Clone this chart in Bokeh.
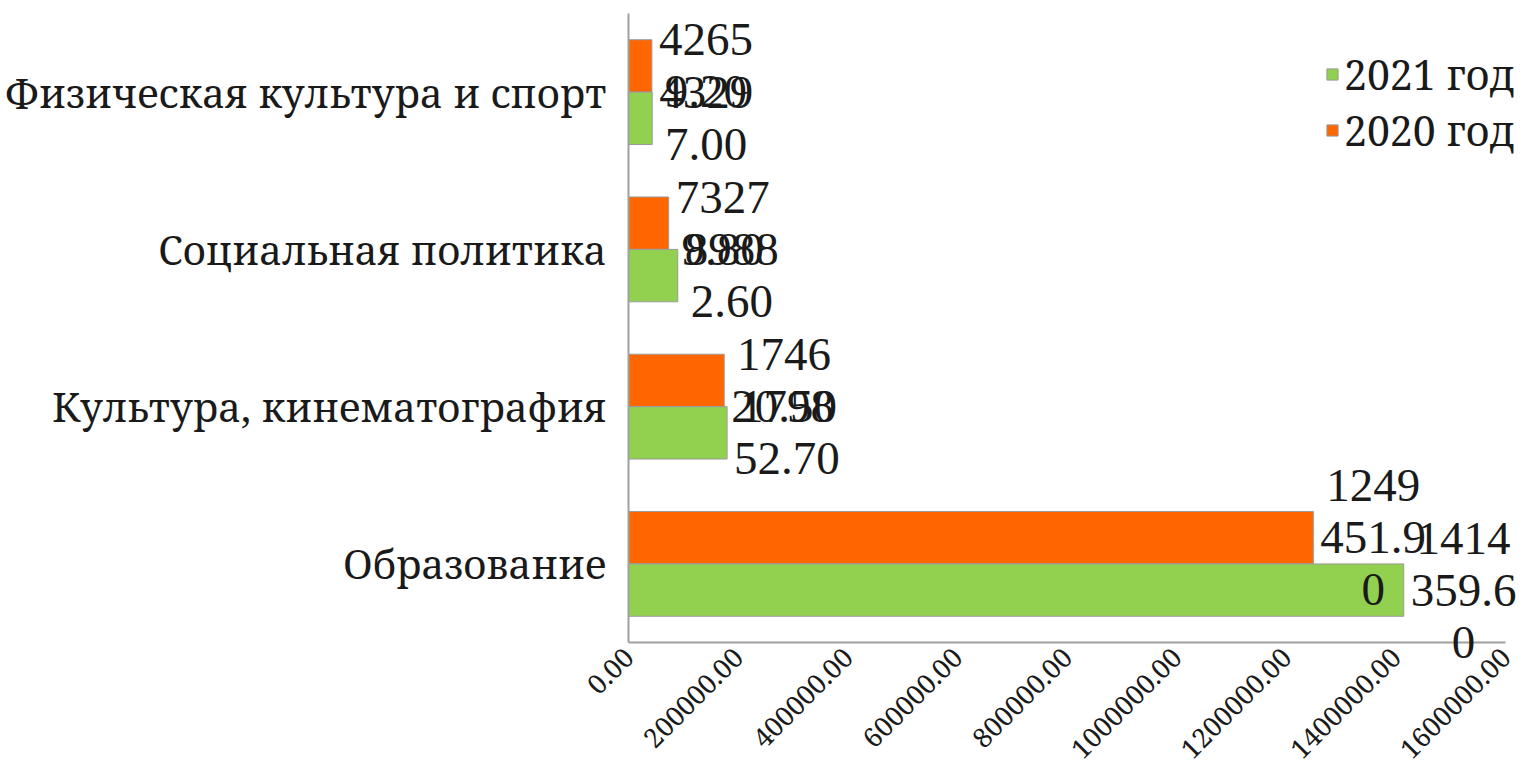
from bokeh.plotting import figure
from bokeh.models import (ColumnDataSource, Range1d, FixedTicker,
                          NumeralTickFormatter, Legend, LegendItem, LabelSet)
from bokeh.transform import dodge
from bokeh.embed import file_html
from bokeh.resources import INLINE
from math import pi

# ---- data ----
categories = ["Образование", "Культура, кинематография",
              "Социальная политика", "Физическая культура и спорт"]
values_2020 = [1249451.90, 174620.50, 73279.80, 42659.20]
values_2021 = [1414359.60, 179852.70, 89882.60, 43297.00]
series_names = ["2021 год", "2020 год"]
x_ticks = [0, 200000, 400000, 600000, 800000, 1000000, 1200000, 1400000, 1600000]

# ---- styling / layout ----
FONT = "Noto Serif"
LABEL_PX = 47
LINE_H = 52
GAP = 7
ORANGE = "#FF6600"
GREEN = "#92D050"
EDGE = "#9a9a9a"
AXIS_C = "#a0a0a0"
TXT = "#1a1a1a"

W, H = 1525, 776
X0_PX, XEND_PX = 628, 1505     # page px of x=0 and of the last tick
Y_TOP_PX, Y_BOT_PX = 13, 642   # page px of top of categories and of x axis
n_cat = len(categories)
sx = x_ticks[-1] / (XEND_PX - X0_PX)
unit = (Y_BOT_PX - Y_TOP_PX) / n_cat
x_start = -X0_PX * sx
x_end = (W - X0_PX) * sx
y_hi = n_cat - 0.5 + Y_TOP_PX / unit
y_lo = -0.5 - (H - Y_BOT_PX) / unit


def wrap_w(ch):          # width units used for line breaking
    return 0.25 if ch == "." else 0.5


def font_w(ch):          # approximate advance in em
    return 0.25 if ch == "." else 0.5


def wrap(s, limit=2.3):
    lines, cur, w = [], "", 0.0
    for ch in s:
        cw = wrap_w(ch)
        if cur and w + cw > limit:
            lines.append(cur)
            cur, w = "", 0.0
        cur += ch
        w += cw
    lines.append(cur)
    return lines


def label_source(values):
    xs, ys, texts, xo, yo = [], [], [], [], []
    for i, v in enumerate(values):
        lines = wrap(f"{v:.2f}")
        block = max(sum(font_w(ch) for ch in l) for l in lines) * LABEL_PX
        n = len(lines)
        for k, l in enumerate(lines):
            xs.append(v)
            ys.append(i)
            texts.append(l)
            xo.append(GAP + block / 2)
            yo.append(-(k - (n - 1) / 2) * LINE_H)
    return ColumnDataSource(dict(x=xs, ypos=ys, text=texts, xo=xo, yo=yo))


p = figure(width=W, height=H, output_backend="svg", toolbar_location=None,
           x_range=Range1d(x_start, x_end), y_range=Range1d(y_lo, y_hi),
           min_border_left=0, min_border_right=0, min_border_top=0,
           min_border_bottom=0)
p.outline_line_color = None
p.grid.visible = False

src = ColumnDataSource(dict(ypos=list(range(n_cat)), cat=categories,
                            v2020=values_2020, v2021=values_2021))

r20 = p.hbar(y=dodge("ypos", 0.1667), right="v2020", left=0, height=0.333,
             source=src, fill_color=ORANGE, line_color=EDGE, line_width=1)
r21 = p.hbar(y=dodge("ypos", -0.1667), right="v2021", left=0, height=0.333,
             source=src, fill_color=GREEN, line_color=EDGE, line_width=1)

for vals, off in ((values_2020, 0.1667), (values_2021, -0.1667)):
    ls = LabelSet(x="x", y=dodge("ypos", off), text="text",
                  x_offset="xo", y_offset="yo", source=label_source(vals),
                  text_font=FONT, text_font_size=f"{LABEL_PX}px",
                  text_align="center", text_baseline="middle",
                  text_color=TXT)
    p.add_layout(ls)

# x axis
xa = p.xaxis[0]
xa.fixed_location = -0.5
xa.bounds = (x_ticks[0], x_ticks[-1])
xa.ticker = FixedTicker(ticks=x_ticks)
xa.formatter = NumeralTickFormatter(format="0.00")
xa.major_label_orientation = pi / 4
xa.major_label_text_font = FONT
xa.major_label_text_font_size = "27px"
xa.major_label_text_color = TXT
xa.axis_line_color = AXIS_C
xa.axis_line_width = 2
xa.major_tick_line_color = None
xa.minor_tick_line_color = None
xa.major_label_standoff = 4

# y axis
ya = p.yaxis[0]
ya.fixed_location = 0
ya.bounds = (-0.5, n_cat - 0.5)
ya.ticker = FixedTicker(ticks=list(range(n_cat)))
ya.major_label_overrides = {i: c for i, c in enumerate(categories)}
ya.major_label_text_font = FONT
ya.major_label_text_font_size = "40px"
ya.major_label_text_color = TXT
ya.axis_line_color = AXIS_C
ya.axis_line_width = 2
ya.major_tick_line_color = None
ya.minor_tick_line_color = None
ya.major_label_standoff = 16

legend = Legend(items=[LegendItem(label=series_names[0], renderers=[r21]),
                       LegendItem(label=series_names[1], renderers=[r20])],
                location=(1325, H - 158), padding=0, margin=0, spacing=0,
                label_height=LINE_H, glyph_height=14, glyph_width=14,
                label_standoff=5, label_text_font=FONT,
                label_text_font_size="41px",
                label_text_color=TXT,
                background_fill_alpha=0, border_line_color=None)
p.add_layout(legend)

open("out.html", "w").write(file_html(p, INLINE))
